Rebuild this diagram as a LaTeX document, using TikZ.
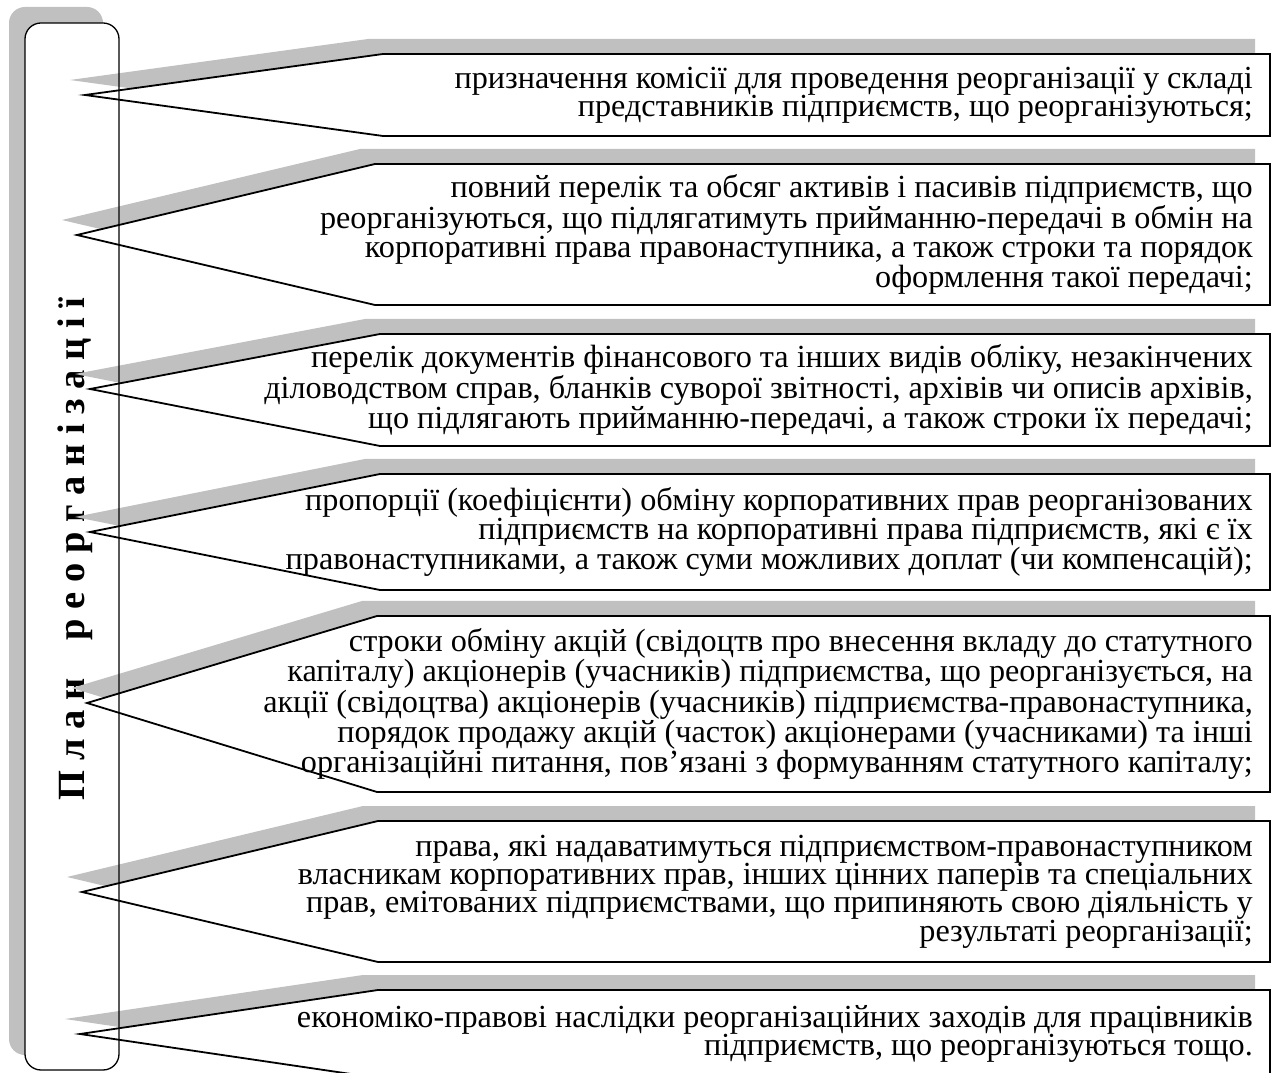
\documentclass[tikz,border=0pt]{standalone}
\usepackage{fontspec}
\setmainfont{Liberation Serif}
\definecolor{shadowgray}{HTML}{C0C0C0}
\tikzset{
  barline/.style={draw=black, line width=1.3pt},
  calloutshape/.style={draw=black, fill=white, line width=1.8pt},
  calloutshadow/.style={fill=shadowgray},
  calltext/.style={font=\fontsize{32.2}{28.3}\selectfont, align=right, inner sep=0pt, anchor=east},
  titletext/.style={font=\bfseries\fontsize{38.5}{38.5}\selectfont, rotate=90, anchor=base, inner sep=0pt}
}
% #1 tip x, #2 tip y, #3 left x, #4 top y, #5 bottom y, #6 name, #7 text  (pixel coords, y down)
\newcommand\mycallout[7]{%
  \fill[calloutshadow] ({#1-15},{1072-#2+15}) -- ({#3-15},{1072-#4+15}) -- (1255,{1072-#4+15}) -- (1255,{1072-#5+15}) -- ({#3-15},{1072-#5+15}) -- cycle;
  \path[calloutshape] ({#1},{1072-#2}) -- ({#3},{1072-#4}) -- (1270,{1072-#4}) -- (1270,{1072-#5}) -- ({#3},{1072-#5}) -- cycle;
  \node[calltext] (#6) at (1253,{1072-(#4+#5)/2}) {#7};
}
\begin{document}
\begin{tikzpicture}[x=1pt,y=1pt]
\useasboundingbox (0,0) rectangle (1272,1072);
\clip (0,0) rectangle (1272,1072);
% bar shadow and fill
\fill[shadowgray, rounded corners=16pt] (9,{1072-7}) rectangle (103,{1072-1055});
\fill[white, rounded corners=16pt] (25,{1072-23}) rectangle (119,{1072-1070});
% title
\node[titletext] (title) at (84,{1072-549}) {П л а н \ \ \ р е о р г а н і з а ц і ї};
% callouts
\mycallout{85}{95}{383}{54}{136}{c1}{призначення комісії для проведення реорганізації у складі\\ представників підприємств, що реорганізуються;}
\mycallout{77}{235}{375}{164}{305}{c2}{повний перелік та обсяг активів і пасивів підприємств, що\\ реорганізуються, що підлягатимуть прийманню-передачі в обмін на\\ корпоративні права правонаступника, а також строки та порядок\\ оформлення такої передачі;}
\mycallout{90}{389}{380}{334}{446}{c3}{перелік документів фінансового та інших видів обліку, незакінчених\\ діловодством справ, бланків суворої звітності, архівів чи описів архівів,\\ що підлягають прийманню-передачі, а також строки їх передачі;}
\mycallout{90}{532}{380}{474}{590}{c4}{пропорції (коефіцієнти) обміну корпоративних прав реорганізованих\\ підприємств на корпоративні права підприємств, які є їх\\ правонаступниками, а також суми можливих доплат (чи компенсацій);}
\mycallout{87}{703}{377}{616}{792}{c5}{строки обміну акцій (свідоцтв про внесення вкладу до статутного\\ капіталу) акціонерів (учасників) підприємства, що реорганізується, на\\ акції (свідоцтва) акціонерів (учасників) підприємства-правонаступника,\\ порядок продажу акцій (часток) акціонерами (учасниками) та інші\\ організаційні питання, пов’язані з формуванням статутного капіталу;}
\mycallout{82}{892}{378}{821}{962}{c6}{права, які надаватимуться підприємством-правонаступником\\ власникам корпоративних прав, інших цінних паперів та спеціальних\\ прав, емітованих підприємствами, що припиняють свою діяльність у\\ результаті реорганізації;}
\mycallout{80}{1034}{378}{990}{1078}{c7}{економіко-правові наслідки реорганізаційних заходів для працівників\\ підприємств, що реорганізуються тощо.}
% bar outline on top
\draw[barline, rounded corners=16pt] (25,{1072-23}) rectangle (119,{1072-1070});
\end{tikzpicture}
\end{document}
